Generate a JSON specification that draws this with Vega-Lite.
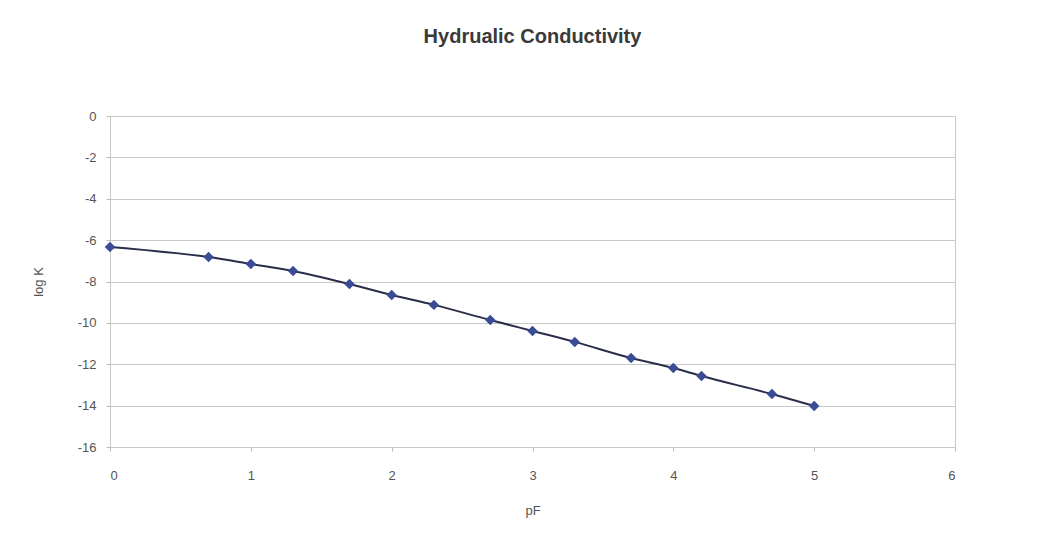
{
  "$schema": "https://vega.github.io/schema/vega-lite/v6.json",
  "autosize": "none",
  "width": 845,
  "height": 331,
  "padding": {"left": 110, "top": 116, "right": 102, "bottom": 103},
  "background": "white",
  "title": {"text": "Hydrualic Conductivity", "anchor": "middle", "offset": 63, "fontSize": 20, "font": "Liberation Sans", "fontWeight": "bold", "color": "#3a3a3a"},
  "data": {"values": [
    {"pF": 0, "logK": -6.33},
    {"pF": 0.7, "logK": -6.82},
    {"pF": 1, "logK": -7.15},
    {"pF": 1.3, "logK": -7.49},
    {"pF": 1.7, "logK": -8.12},
    {"pF": 2, "logK": -8.65},
    {"pF": 2.3, "logK": -9.13},
    {"pF": 2.7, "logK": -9.86},
    {"pF": 3, "logK": -10.39},
    {"pF": 3.3, "logK": -10.92},
    {"pF": 3.7, "logK": -11.7},
    {"pF": 4, "logK": -12.18},
    {"pF": 4.2, "logK": -12.57},
    {"pF": 4.7, "logK": -13.44},
    {"pF": 5, "logK": -14.02}
  ]},
  "encoding": {
    "x": {"field": "pF", "type": "quantitative", "scale": {"domain": [0, 6], "nice": false},
      "axis": {"title": "pF", "values": [0,1,2,3,4,5,6], "grid": false, "domain": false, "tickColor": "#bbbbbb", "tickSize": 4, "labelPadding": 18, "titlePadding": 22, "labelFont": "Liberation Sans", "titleFont": "Liberation Sans", "labelFontSize": 13, "titleFontSize": 13, "titleFontWeight": "normal", "labelColor": "#555555", "titleColor": "#555555"}},
    "y": {"field": "logK", "type": "quantitative", "scale": {"domain": [-16, 0], "nice": false},
      "axis": {"title": "log K", "values": [0,-2,-4,-6,-8,-10,-12,-14,-16], "labelExpr": "'' + datum.value", "grid": true, "gridColor": "#c8c8c8", "domain": false, "tickColor": "#bbbbbb", "tickSize": 4, "labelPadding": 10, "titlePadding": 32, "labelFont": "Liberation Sans", "titleFont": "Liberation Sans", "labelFontSize": 13, "titleFontSize": 13, "titleFontWeight": "normal", "labelColor": "#555555", "titleColor": "#555555"}}
  },
  "layer": [
    {"mark": {"type": "line", "interpolate": "monotone", "color": "#2b2e4a", "strokeWidth": 2}},
    {"mark": {"type": "point", "shape": "diamond", "filled": true, "size": 110, "color": "#3a4c96", "opacity": 1}}
  ],
  "config": {"view": {"stroke": "#c8c8c8"}}
}
